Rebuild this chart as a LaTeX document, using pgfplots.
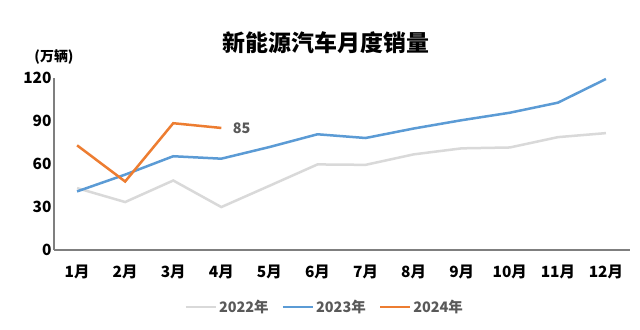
\documentclass[border=0pt]{standalone}
\usepackage{pgfplots}
\pgfplotsset{compat=1.18}
\usepackage{fontspec}
\setmainfont{Noto Sans CJK SC}
\definecolor{c22}{HTML}{D9D9D9}
\definecolor{c23}{HTML}{5B9BD5}
\definecolor{c24}{HTML}{ED7D31}
\definecolor{axisgray}{HTML}{7F7F7F}
\definecolor{txtgray}{HTML}{595959}
\begin{document}
\begin{tikzpicture}
\useasboundingbox[fill=white] (0,0) rectangle (640bp,330bp);
\begin{axis}[
  at={(54bp,80bp)}, anchor=south west,
  scale only axis, width=576bp, height=172.3bp,
  xmin=0.52, xmax=12.5, ymin=0, ymax=120,
  axis x line*=bottom, axis y line*=left,
  axis line style={axisgray, line width=1.3bp, -},
  xtick={1,...,12},
  xticklabels={1月,2月,3月,4月,5月,6月,7月,8月,9月,10月,11月,12月},
  ytick={0,30,60,90,120},
  major tick length=0pt,
  /pgf/number format/assume math mode=true,
  tick label style={font=\fontsize{15.5}{16}\selectfont\bfseries, text=black},
  xticklabel style={yshift=-11bp},
  yticklabel style={xshift=1bp},
  legend style={at={(0.47,-0.33)}, anchor=center, draw=none, fill=none,
    legend columns=3, font=\fontsize{14.5}{15}\selectfont\bfseries, text=txtgray,
    /tikz/every even column/.append style={column sep=11bp}},
  legend cell align=left,
  legend image code/.code={\draw[#1, line width=2.5bp] (0bp,0bp) -- (30bp,0bp);},
  clip=false,
]
\addplot[c22, line width=2.5bp] coordinates {(1,43.1) (2,33.4) (3,48.4) (4,29.9) (5,44.7) (6,59.6) (7,59.3) (8,66.6) (9,70.8) (10,71.4) (11,78.6) (12,81.4)};
\addlegendentry{2022年}
\addplot[c23, line width=2.5bp] coordinates {(1,40.8) (2,52.5) (3,65.3) (4,63.6) (5,71.7) (6,80.6) (7,78.0) (8,84.6) (9,90.4) (10,95.6) (11,102.6) (12,119.1)};
\addlegendentry{2023年}
\addplot[c24, line width=2.5bp] coordinates {(1,72.9) (2,47.7) (3,88.3) (4,85.0)};
\addlegendentry{2024年}
\node[anchor=west, text=txtgray, font=\fontsize{14.5}{15}\selectfont\bfseries] at (axis cs:4,85) [xshift=8bp] {85};
\end{axis}
\node[font=\fontsize{14}{15}\selectfont\bfseries, text=black] at (54bp,273bp) {(万辆)};
\node[font=\fontsize{23}{24}\selectfont\bfseries, text=black] at (326bp,287bp) {新能源汽车月度销量};
\end{tikzpicture}
\end{document}
